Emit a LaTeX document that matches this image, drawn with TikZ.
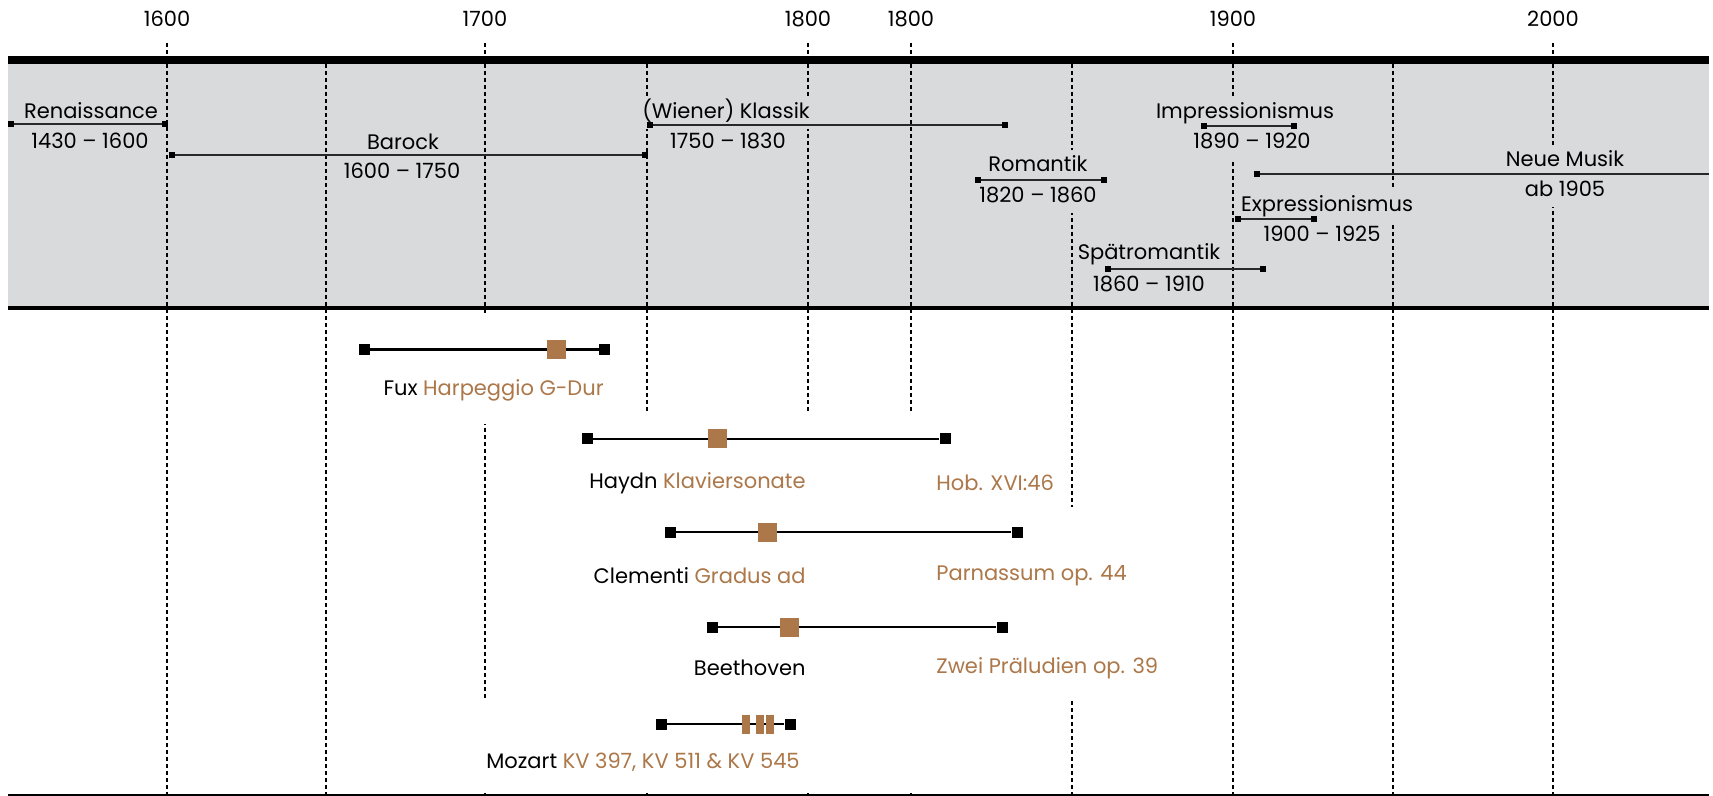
\documentclass[tikz,border=0pt]{standalone}
\usepackage{fontspec}
\setmainfont{Poppins}

\definecolor{epochgray}{RGB}{217,218,220}
\definecolor{workbrown}{RGB}{172,119,73}
\definecolor{spangray}{RGB}{40,40,40}

\tikzset{
    yeardash/.style={line width=0.55pt, dash pattern=on 2pt off 1.5pt},
    epochlbl/.style={fill=epochgray, inner xsep=0pt, inner ysep=3pt, text height=7.8pt, text depth=2pt},
    epochend/.style={fill=black, minimum size=2.6pt, inner sep=0pt},
    epochspan/.style={draw=spangray, line width=0.7pt},
    workend/.style={fill=black, minimum size=5.5pt, inner sep=0pt},
    workmark/.style={fill=workbrown, minimum size=9.5pt, inner sep=0pt},
    workbar/.style={fill=workbrown, minimum width=4pt, minimum height=9.5pt, inner sep=0pt},
    workline/.style={line width=1.25pt},
    worklbl/.style={inner sep=0pt},
}

\begin{document}
\begin{tikzpicture}[x=0.5pt,y=-0.5pt, every node/.style={font=\fontsize{10.5pt}{12pt}\selectfont}]
        \useasboundingbox (0,0) rectangle (1713,796);
        % band of the epochs
        \fill[epochgray] (8,64) rectangle (1709,306);
        % years
        \foreach \x in {167,485,808,911,1233,1553}{
            \draw[yeardash] (\x,43)--(\x,795);
            };
        \foreach \x in {326,647,1072,1393}{
            \draw[yeardash] (\x,64)--(\x,795);
            };
        \foreach \x/\yr [count=\i] in {167/1600,485/1700,808/1800,911/1800,1233/1900,1553/2000}{
            \node (year\i) at (\x,19) {\yr};
            };
        \fill (8,56) rectangle (1709,64);
        \fill (8,306) rectangle (1709,310);

        % epochs
        \node[epochlbl] (renT) at (91,113) {Renaissance};
        \node[epochlbl] (renB) at (90,143) {1430 -- 1600};
        \node[epochlbl] (barT) at (403,144) {Barock};
        \node[epochlbl] (barB) at (402,173) {1600 -- 1750};
        \node[epochlbl] (klaT) at (726,113) {(Wiener) Klassik};
        \node[epochlbl] (klaB) at (728,143) {1750 -- 1830};
        \node[epochlbl] (romT) at (1038,166) {Romantik};
        \node[epochlbl] (romB) at (1038,197) {1820 -- 1860};
        \node[epochlbl] (impT) at (1245,113) {Impressionismus};
        \node[epochlbl] (impB) at (1252,143) {1890 -- 1920};
        \node[epochlbl] (neuT) at (1565,161) {Neue Musik};
        \node[epochlbl] (neuB) at (1565,191) {ab 1905};
        \node[epochlbl] (expT) at (1327,206) {Expressionismus};
        \node[epochlbl] (expB) at (1322,236) {1900 -- 1925};
        \node[epochlbl] (spaT) at (1149,254) {Spätromantik};
        \node[epochlbl] (spaB) at (1149,286) {1860 -- 1910};

        \foreach \n/\a/\b/\y in {ren/11/165/124, bar/172/645/155, kla/650/1005/125, rom/978/1104/180,
                                 imp/1204/1294/126, exp/1238/1314/219, spa/1108/1263/269}{
            \node[epochend] (\n1) at (\a,\y) {};
            \node[epochend] (\n2) at (\b,\y) {};
            \draw[epochspan] (\n1)--(\n2);
            };
        \node[epochend] (neu1) at (1257,174) {};
        \coordinate (neu2) at (1709,174);
        \draw[epochspan] (neu1)--(neu2);

        % works
        \fill[white] (345,314) rectangle (625,424);
        \fill[white] (570,413) rectangle (1060,507);
        \fill[white] (580,507) rectangle (1135,601);
        \fill[white] (580,602) rectangle (1170,698);
        \fill[white] (470,700) rectangle (1000,793);

        \foreach \n/\a/\b/\y/\m in {fux/364.5/604.5/349.5/556.5, hay/587/945/439/717.5,
                                    cle/670/1017/532/767.5, bee/712/1002/627/789.5}{
            \node[workend] (\n1) at (\a,\y) {};
            \node[workend] (\n2) at (\b,\y) {};
            \draw[workline] (\n1)--(\n2);
            \node[workmark] (\n M) at (\m,\y) {};
            };
        \node[workend] (moz1) at (661,724) {};
        \node[workend] (moz2) at (790,724) {};
        \draw[workline] (moz1)--(moz2);
        \foreach \m [count=\i] in {746,760,770}{
            \node[workbar] (mozM\i) at (\m,724) {};
            };

        \node[worklbl, anchor=east] (fuxL) at (604,390) {Fux \textcolor{workbrown}{Harpeggio G-Dur}};
        \node[worklbl, anchor=east] (hayL) at (806,483) {Haydn \textcolor{workbrown}{Klaviersonate}};
        \node[worklbl, anchor=west, text=workbrown] (hayR) at (936,483) {Hob. XVI:46};
        \node[worklbl, anchor=east] (cleL) at (806,576) {Clementi \textcolor{workbrown}{Gradus ad}};
        \node[worklbl, anchor=west, text=workbrown] (cleR) at (936,576) {Parnassum op. 44};
        \node[worklbl, anchor=east] (beeL) at (806,668) {Beethoven};
        \node[worklbl, anchor=west, text=workbrown] (beeR) at (936,668) {Zwei Präludien op. 39};
        \node[worklbl, anchor=west] (mozL) at (486,762) {Mozart \textcolor{workbrown}{KV 397, KV 511 \& KV 545}};

        \draw[line width=0.75pt] (8,795)--(1709,795);
    \end{tikzpicture}
\end{document}
